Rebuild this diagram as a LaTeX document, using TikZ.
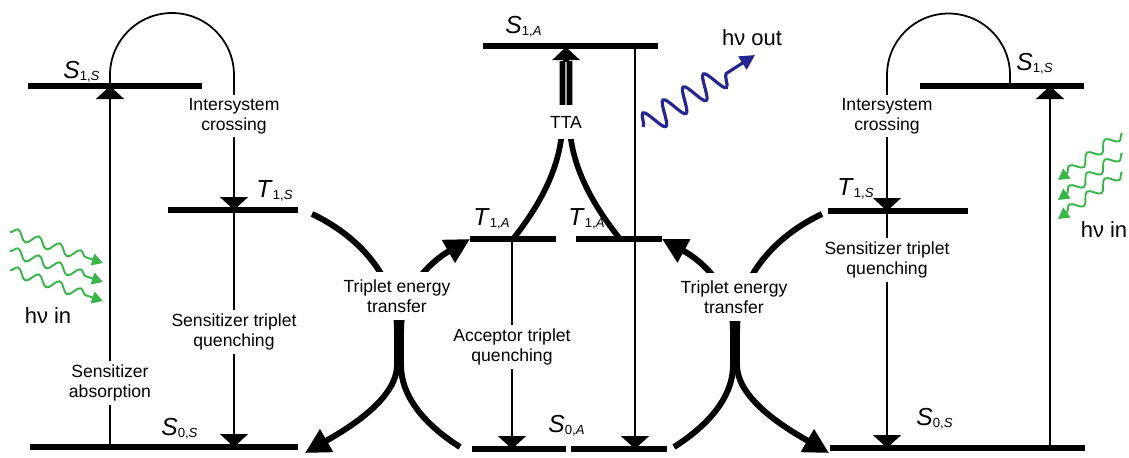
\documentclass[tikz,border=0pt]{standalone}
\usepackage{fontspec}
\setmainfont{Liberation Sans}
\usetikzlibrary{arrows.meta,decorations.pathmorphing}

\definecolor{ingreen}{RGB}{57,181,74}
\definecolor{outblue}{RGB}{38,38,145}

% state label: letter, number, molecule
\newcommand{\lvl}[3]{{\fontsize{14}{16}\selectfont\textit{#1}}\raisebox{-1.5pt}{\fontsize{7.5}{8}\selectfont #2,\textit{#3}}}

\tikzset{
  level/.style={line width=3.3pt},
  trans/.style={line width=1pt,-{Triangle[length=0.26cm,width=0.56cm]}},
  tet/.style={line width=3.4pt,-{Triangle[length=0.5cm,width=0.5cm]}},
  tta/.style={line width=3.2pt},
  lvllabel/.style={anchor=base west,inner sep=0pt},
  txt/.style={fill=white,align=center,inner sep=2pt,font=\fontsize{10}{11.5}\selectfont},
  hv/.style={inner sep=0pt,font=\fontsize{12.5}{14}\selectfont},
  photonin/.style={ingreen,line width=1.1pt,-{Triangle[length=0.22cm,width=0.24cm]},
    decorate,decoration={snake,amplitude=0.1cm,segment length=0.44cm,post length=0.2cm}},
  photonout/.style={outblue,line width=1.8pt,-{Triangle[length=0.3cm,width=0.3cm]},
    decorate,decoration={snake,amplitude=0.24cm,segment length=0.48cm,post length=0.6cm}},
}

\begin{document}
\begin{tikzpicture}[x=0.02cm,y=-0.02cm]
  \useasboundingbox (0,0) rectangle (1129,457);

  % energy levels
  \draw[level] (28,86) coordinate (S1SLw) -- (202,86) coordinate (S1SLe);
  \draw[level] (168,210) coordinate (T1SLw) -- (298,210) coordinate (T1SLe);
  \draw[level] (30,447) coordinate (S0SLw) -- (298,447) coordinate (S0SLe);
  \draw[level] (483,46) coordinate (S1Aw) -- (658,46) coordinate (S1Ae);
  \draw[level] (470,239) coordinate (T1ALw) -- (556,239) coordinate (T1ALe);
  \draw[level] (576,239) coordinate (T1ARw) -- (662,239) coordinate (T1ARe);
  \draw[level] (472,449) coordinate (S0ALw) -- (566,449) coordinate (S0ALe);
  \draw[level] (571,449) coordinate (S0ARw) -- (667,449) coordinate (S0ARe);
  \draw[level] (828,211) coordinate (T1SRw) -- (968,211) coordinate (T1SRe);
  \draw[level] (920,86) coordinate (S1SRw) -- (1084,86) coordinate (S1SRe);
  \draw[level] (830,448) coordinate (S0SRw) -- (1085,448) coordinate (S0SRe);

  \node[lvllabel] (lS1SL) at (63,78) {\lvl{S}{1}{S}};
  \node[lvllabel] (lT1SL) at (256,197) {\lvl{T}{1}{S}};
  \node[lvllabel] (lS0SL) at (161,435) {\lvl{S}{0}{S}};
  \node[lvllabel] (lS1A) at (505,33) {\lvl{S}{1}{A}};
  \node[lvllabel] (lT1AL) at (473,225) {\lvl{T}{1}{A}};
  \node[lvllabel] (lT1AR) at (568,225) {\lvl{T}{1}{A}};
  \node[lvllabel] (lS0A) at (548,432) {\lvl{S}{0}{A}};
  \node[lvllabel] (lT1SR) at (837,195) {\lvl{T}{1}{S}};
  \node[lvllabel] (lS1SR) at (1016,70) {\lvl{S}{1}{S}};
  \node[lvllabel] (lS0SR) at (916,425) {\lvl{S}{0}{S}};

  % vertical transitions
  \coordinate (xabsL) at (110,0);
  \coordinate (xiscL) at (234,0);
  \coordinate (xaq) at (512,0);
  \coordinate (xfl) at (635,0);
  \coordinate (xiscR) at (887,0);
  \coordinate (xiscRs) at (1010,0);
  \coordinate (xabsR) at (1050,0);
  \draw[trans] (xabsL |- S0SLw) -- (xabsL |- S1SLw);
  \draw[trans] (xabsL |- S1SLw) -- ++(0,-11) arc[start angle=180,end angle=0,radius=1.24cm] -- (xiscL |- T1SLw);
  \draw[trans] (xiscL |- T1SLw) -- (xiscL |- S0SLw);
  \draw[trans] (xaq |- T1ALw) -- (xaq |- S0ALw);
  \draw[trans] (xfl |- S1Aw) -- (xfl |- S0ARw);
  \draw[trans] (xabsR |- S0SRw) -- (xabsR |- S1SRw);
  \draw[trans] (xiscRs |- S1SRw) -- ++(0,-11) arc[start angle=0,end angle=180,radius=1.23cm] -- (xiscR |- T1SRw);
  \draw[trans] (xiscR |- T1SRw) -- (xiscR |- S0SRw);

  % triplet energy transfer
  \coordinate (tetLs) at (312,214);
  \coordinate (tetLa) at (460,447);
  \coordinate (tetRs) at (822,214);
  \coordinate (tetRa) at (674,447);
  \draw[tet] (tetLs) .. controls (355,234) and (397,275) .. (397,330) -- (397,365)
    .. controls (397,400) and (345,430) .. (305,453);
  \draw[tet] (tetLa) .. controls (430,428) and (401,400) .. (401,365) -- (401,330)
    .. controls (401,290) and (430,262) .. (T1ALw);
  \draw[tet] (tetRs) .. controls (779,234) and (737,275) .. (737,330) -- (737,365)
    .. controls (737,400) and (789,430) .. (829,453);
  \draw[tet] (tetRa) .. controls (704,428) and (733,400) .. (733,365) -- (733,330)
    .. controls (733,290) and (704,262) .. (T1ARe);

  % annihilation
  \coordinate (ttaL) at (513,239);
  \coordinate (ttaR) at (620,239);
  \coordinate (ttaTop) at (566,47);
  \draw[tta] (ttaL) .. controls (540,205) and (562.5,165) .. (562.5,120) -- (562.5,61);
  \draw[tta] (ttaR) .. controls (593,205) and (569.5,165) .. (569.5,120) -- (569.5,61);
  \draw[tta,-{Triangle[length=0.26cm,width=0.54cm]}] (566,62) -- (ttaTop);

  % process labels
  \node[txt] (iscLtxt) at (234,116) {Intersystem\\crossing};
  \node[txt] (stqLtxt) at (234,332) {Sensitizer triplet\\quenching};
  \node[txt] (absLtxt) at (110,383) {Sensitizer\\absorption};
  \node[txt] (aqtxt) at (512,347) {Acceptor triplet\\quenching};
  \node[txt] (iscRtxt) at (887,116) {Intersystem\\crossing};
  \node[txt] (stqRtxt) at (887,260) {Sensitizer triplet\\quenching};
  \node[txt,inner sep=4pt] (tetLtxt) at (397,296) {Triplet energy\\transfer};
  \node[txt,inner sep=4pt] (tetRtxt) at (734,297) {Triplet energy\\transfer};
  \node[txt,inner sep=6pt] (ttatxt) at (566,122) {TTA};

  % photons
  \foreach \dy [count=\i] in {0,19,38} {
    \coordinate (inLs\i) at (10,{232+\dy});
    \coordinate (inLe\i) at (103,{263+\dy});
    \draw[photonin] (inLs\i) -- (inLe\i);
  }
  \foreach \dy [count=\i] in {0,20,39} {
    \coordinate (inRs\i) at (1122,{133+\dy});
    \coordinate (inRe\i) at (1058,{180+\dy});
    \draw[photonin] (inRs\i) -- (inRe\i);
  }
  \coordinate (outS) at (643,127);
  \coordinate (outE) at (755,55);
  \draw[photonout] (outS) -- (outE);

  \node[hv] (hvinL) at (48,316) {hν in};
  \node[hv] (hvinR) at (1104,230) {hν in};
  \node[hv] (hvout) at (752,38) {hν out};
\end{tikzpicture}
\end{document}
